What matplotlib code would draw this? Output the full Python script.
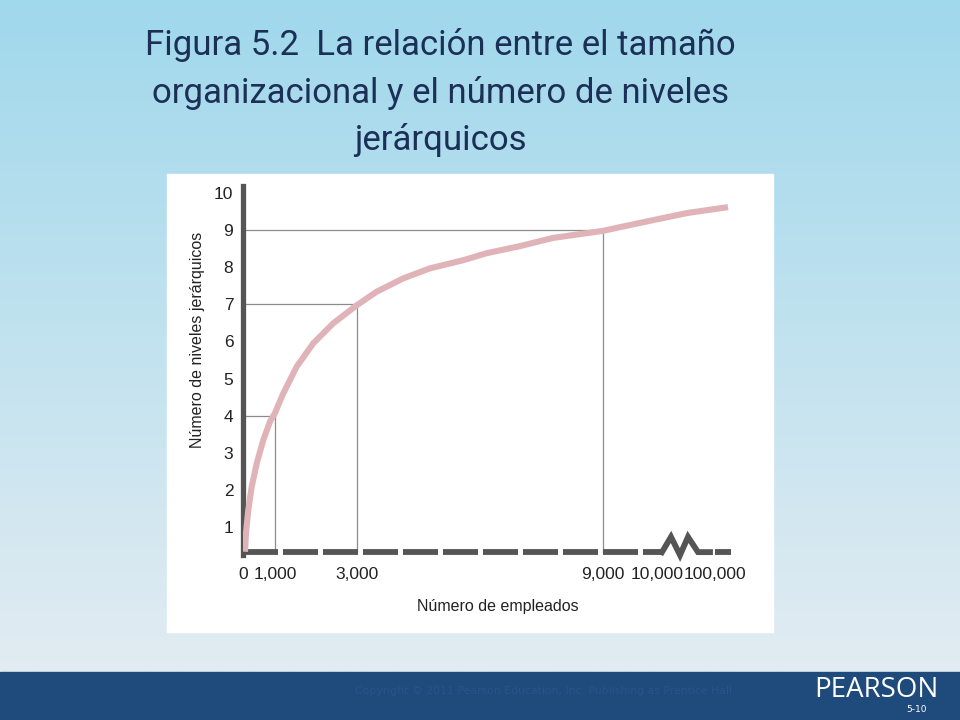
import matplotlib
matplotlib.use("Agg")
import matplotlib.pyplot as plt
import numpy as np
from matplotlib.patches import Rectangle

# data: number of employees vs hierarchical levels
employees = [62, 94, 166, 272, 428, 634, 844, 1000, 1202, 1529, 1934, 2422, 3000,
             3480, 4129, 4780, 5593, 6170, 6980, 7780, 9000, 9315, 9930, 56550, 126000]
levels = [0.33, 0.84, 1.46, 2.08, 2.71, 3.34, 3.84, 4.07, 4.6, 5.32, 5.95, 6.49, 6.98,
          7.34, 7.7, 7.97, 8.19, 8.38, 8.57, 8.79, 8.98, 9.08, 9.27, 9.46, 9.62]

guide_employees = [1000, 3000, 9000]
guide_levels = [4, 7, 9]

xtick_values = [0, 1000, 3000, 9000, 10000, 100000]
xtick_labels = ["0", "1,000", "3,000", "9,000", "10,000", "100,000"]
ytick_values = list(range(1, 11))

# broken axis (zigzag between 10,000 and 100,000)
axis_base = 0.32
break_x = [17760, 31720, 45690, 58100, 73620, 92240]
break_y = [0.32, 0.73, 0.24, 0.73, 0.32, 0.32]
tail_x = [100000, 132000]

# the original axis is not linear: piecewise mapping of employees to positions
knots_emp = [0, 1000, 3000, 9000, 10000, 100000, 200000]
knots_pos = [0, 0.8, 2.85, 9.0, 10.35, 11.8, 13.05]


def forward(x):
    return np.interp(x, knots_emp, knots_pos)


def inverse(p):
    return np.interp(p, knots_pos, knots_emp)


title_color = "#1b2f57"
axis_color = "#555555"
guide_color = "#8c8c8c"
curve_color = "#e0b3b8"
text_color = "#222222"
label_fonts = ["Liberation Sans Narrow", "Liberation Sans", "DejaVu Sans"]
title_fonts = ["Roboto", "Open Sans", "DejaVu Sans"]

plt.rcParams["lines.scale_dashes"] = False

fig = plt.figure(figsize=(9.6, 7.2), dpi=100)

# background gradient, white panel and footer band
bg = fig.add_axes([0, 0, 1, 1], zorder=-10)
bg.set_axis_off()
top = np.array([160, 216, 236]) / 255
bottom = np.array([226, 236, 242]) / 255
t = np.linspace(0, 1, 256)[:, None]
grad = (top * (1 - t) + bottom * t)[:, None, :]
bg.imshow(grad, aspect="auto", extent=(0, 1, 48 / 720, 1))
bg.add_patch(Rectangle((0, 0), 1, 48 / 720, color="#1f4a7c"))
bg.add_patch(Rectangle((167 / 960, 88 / 720), 606 / 960, 458 / 720, color="white"))
bg.set_xlim(0, 1)
bg.set_ylim(0, 1)

# title
fig.text(0.459, 0.871, "Figura 5.2  La relación entre el tamaño\norganizacional y el número de niveles\njerárquicos",
         ha="center", va="center", fontsize=25, color=title_color, family=title_fonts,
         linespacing=1.5)

# footer text
fig.text(0.37, 0.04, "Copyright © 2011 Pearson Education, Inc. Publishing as Prentice Hall",
         fontsize=7.8, color="#27548c", va="center", ha="left")
fig.text(0.9125, 0.041, "PEARSON", fontsize=20, color="white", va="center", ha="center",
         family=["Open Sans", "DejaVu Sans"])
fig.text(0.955, 0.0145, "5-10", fontsize=6.5, color="white", va="center", ha="center")

ax = fig.add_axes([243 / 960, 156 / 720, 490 / 960, 382.1 / 720])
ax.set_facecolor("none")
ax.set_xscale("function", functions=(forward, inverse))
ax.set_xlim(0, 136000)
ax.set_ylim(0, 10.3)

# guide lines
for gx, gy in zip(guide_employees, guide_levels):
    ax.plot([0, gx], [gy, gy], color=guide_color, lw=0.9, zorder=2)
    ax.plot([gx, gx], [axis_base, gy], color=guide_color, lw=0.9, zorder=2)

# curve
ax.plot(employees, levels, color=curve_color, lw=4.4, solid_capstyle="butt",
        solid_joinstyle="round", zorder=4)

# dashed x axis with break
ax.plot([0, break_x[0]], [axis_base, axis_base], color=axis_color, lw=4.2,
        dashes=(25.2, 3.6), dash_capstyle="butt", zorder=3)
ax.plot(break_x, break_y, color=axis_color, lw=4.2, solid_joinstyle="miter", zorder=3)
ax.plot(tail_x, [axis_base, axis_base], color=axis_color, lw=4.2, solid_capstyle="butt", zorder=3)

for side in ["top", "right", "bottom"]:
    ax.spines[side].set_visible(False)
ax.spines["left"].set_color(axis_color)
ax.spines["left"].set_linewidth(3.8)
ax.spines["left"].set_bounds(0.24, 10.2)

ax.set_xticks(xtick_values)
ax.set_xticklabels(xtick_labels)
ax.set_yticks(ytick_values)
ax.minorticks_off()
ax.tick_params(axis="x", length=0, pad=2, labelsize=12.5, labelcolor=text_color)
ax.tick_params(axis="y", length=0, pad=7, labelsize=12.5, labelcolor=text_color)
for lab in ax.get_xticklabels() + ax.get_yticklabels():
    lab.set_family(label_fonts)

ax.set_xlabel("Número de empleados", fontsize=11.5, color=text_color, family=label_fonts)
ax.set_ylabel("Número de niveles jerárquicos", fontsize=11.5, color=text_color, family=label_fonts)
ax.xaxis.set_label_coords(0.52, -0.092)
ax.yaxis.set_label_coords(-0.078, 0.586)

fig.savefig("out.png", dpi=100)
